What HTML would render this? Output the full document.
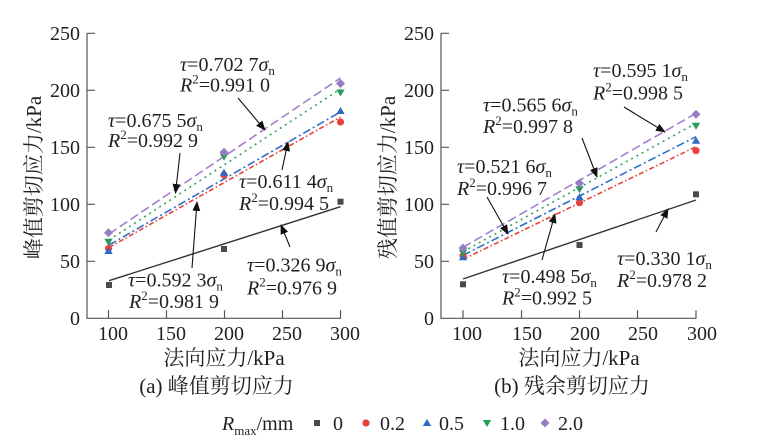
<!DOCTYPE html>
<html><head><meta charset="utf-8"><style>
html,body{margin:0;padding:0;background:#fff;}
*{font-family:"Liberation Serif","Times New Roman",Tinos,"DejaVu Serif","Noto Serif CJK SC",serif;}
svg{display:block;}
</style></head><body>
<svg width="757" height="447" viewBox="0 0 757 447" xmlns="http://www.w3.org/2000/svg">
<defs>
<marker id="ah" markerWidth="10" markerHeight="8" refX="9" refY="4" orient="auto" markerUnits="userSpaceOnUse">
<path d="M0,0 L10,4 L0,8 Z" fill="#111"/>
</marker>
<g id="sq"><rect x="-3" y="-3" width="6" height="6" fill="#4a4a4a"/></g>
<g id="ci"><circle r="3.6" fill="#e8413a"/></g>
<g id="tu"><path d="M0,-4 L4.2,3 L-4.2,3 Z" fill="#2d6cc5"/></g>
<g id="td"><path d="M0,4 L4.2,-3 L-4.2,-3 Z" fill="#2a9a5a"/></g>
<g id="di"><path d="M0,-4.5 L4.5,0 L0,4.5 L-4.5,0 Z" fill="#9a7cc2"/></g>
</defs>
<rect width="757" height="447" fill="#fff"/>

<!-- LEFT CHART axes -->
<g stroke="#555" stroke-width="1.2" fill="none">
<path d="M87,33.3 V318.3 H341"/>
<path d="M87,33.3 h8 M87,90.3 h8 M87,147.3 h8 M87,204.3 h8 M87,261.3 h8"/>
<path d="M108.5,318.3 v-8 M166.5,318.3 v-8 M224.5,318.3 v-8 M282.5,318.3 v-8 M340.5,318.3 v-8"/>
</g>
<g font-family="Liberation Serif" font-size="20" fill="#231f20" text-anchor="end">
<text x="80" y="40">250</text><text x="80" y="97">200</text><text x="80" y="154">150</text>
<text x="80" y="211">100</text><text x="80" y="268">50</text><text x="80" y="325">0</text>
</g>
<g font-family="Liberation Serif" font-size="20" fill="#231f20" text-anchor="middle">
<text x="113" y="340">100</text><text x="171" y="340">150</text><text x="229" y="340">200</text>
<text x="287" y="340">250</text><text x="345" y="340">300</text>
</g>
<g font-family="Liberation Serif, Noto Serif CJK SC, serif" font-size="21" fill="#231f20" text-anchor="middle">
<text transform="translate(41,177.5) rotate(-90)">峰值剪切应力/kPa</text>
<text x="224" y="365">法向应力/kPa</text>
<text x="216.5" y="393">(a) 峰值剪切应力</text>
<text transform="translate(395,177.5) rotate(-90)">残值剪切应力/kPa</text>
<text x="579" y="365">法向应力/kPa</text>
<text x="572" y="393">(b) 残余剪切应力</text>
</g>

<!-- left lines -->
<g fill="none" stroke-width="1.6">
<line x1="109" y1="234" x2="340.5" y2="78" stroke="#a47fd0" stroke-dasharray="9 4"/>
<line x1="109" y1="240" x2="340.5" y2="89" stroke="#35a35f" stroke-dasharray="2 4"/>
<line x1="109" y1="245" x2="340.5" y2="112" stroke="#2f6fc8" stroke-dasharray="8 3 2 3"/>
<line x1="109" y1="247.5" x2="340.5" y2="117" stroke="#e8413a" stroke-dasharray="5 2.5 1.5 2.5"/>
<line x1="109" y1="280.7" x2="340.5" y2="206.7" stroke="#333" stroke-width="1.4"/>
</g>
<use href="#sq" x="109" y="285"/><use href="#sq" x="224" y="249"/><use href="#sq" x="340.5" y="201.7"/>
<use href="#ci" x="108.5" y="248.5"/><use href="#ci" x="224" y="175"/><use href="#ci" x="340.5" y="122"/>
<use href="#tu" x="108.5" y="251"/><use href="#tu" x="224" y="172.7"/><use href="#tu" x="340.5" y="111"/>
<use href="#td" x="108.5" y="241.7"/><use href="#td" x="224" y="156.7"/><use href="#td" x="340.5" y="92.5"/>
<use href="#di" x="108.5" y="232.7"/><use href="#di" x="224" y="152.3"/><use href="#di" x="340.5" y="83.5"/>

<g font-family="Liberation Serif" font-size="20" fill="#231f20">
<text x="180" y="71"><tspan font-style="italic">τ</tspan>=0.702 7<tspan font-style="italic">σ</tspan><tspan font-size="13" dy="4">n</tspan></text>
<text x="180" y="91.5"><tspan font-style="italic">R</tspan><tspan font-size="13" dy="-8">2</tspan><tspan dy="8">=0.991 0</tspan></text>
<text x="108" y="127"><tspan font-style="italic">τ</tspan>=0.675 5<tspan font-style="italic">σ</tspan><tspan font-size="13" dy="4">n</tspan></text>
<text x="108" y="147"><tspan font-style="italic">R</tspan><tspan font-size="13" dy="-8">2</tspan><tspan dy="8">=0.992 9</tspan></text>
<text x="239" y="188"><tspan font-style="italic">τ</tspan>=0.611 4<tspan font-style="italic">σ</tspan><tspan font-size="13" dy="4">n</tspan></text>
<text x="239" y="210"><tspan font-style="italic">R</tspan><tspan font-size="13" dy="-8">2</tspan><tspan dy="8">=0.994 5</tspan></text>
<text x="128" y="286.5"><tspan font-style="italic">τ</tspan>=0.592 3<tspan font-style="italic">σ</tspan><tspan font-size="13" dy="4">n</tspan></text>
<text x="129" y="308"><tspan font-style="italic">R</tspan><tspan font-size="13" dy="-8">2</tspan><tspan dy="8">=0.981 9</tspan></text>
<text x="247" y="271.5"><tspan font-style="italic">τ</tspan>=0.326 9<tspan font-style="italic">σ</tspan><tspan font-size="13" dy="4">n</tspan></text>
<text x="247" y="294.5"><tspan font-style="italic">R</tspan><tspan font-size="13" dy="-8">2</tspan><tspan dy="8">=0.976 9</tspan></text>
</g>
<g stroke="#111" stroke-width="1.1" marker-end="url(#ah)">
<line x1="238" y1="98" x2="265" y2="130"/>
<line x1="180" y1="153" x2="175.5" y2="193"/>
<line x1="282" y1="170" x2="288" y2="142"/>
<line x1="192" y1="268" x2="197" y2="202"/>
<line x1="290" y1="247" x2="281" y2="225"/>
</g>

<!-- RIGHT CHART axes -->
<g stroke="#555" stroke-width="1.2" fill="none">
<path d="M441,33.3 V318.3 H696.5"/>
<path d="M441,33.3 h8 M441,90.3 h8 M441,147.3 h8 M441,204.3 h8 M441,261.3 h8"/>
<path d="M463,318.3 v-8 M521.5,318.3 v-8 M579.5,318.3 v-8 M637.5,318.3 v-8 M696,318.3 v-8"/>
</g>
<g font-family="Liberation Serif" font-size="20" fill="#231f20" text-anchor="end">
<text x="434" y="40">250</text><text x="434" y="97">200</text><text x="434" y="154">150</text>
<text x="434" y="211">100</text><text x="434" y="268">50</text><text x="434" y="325">0</text>
</g>
<g font-family="Liberation Serif" font-size="20" fill="#231f20" text-anchor="middle">
<text x="467" y="340">100</text><text x="527" y="340">150</text><text x="585" y="340">200</text>
<text x="643" y="340">250</text><text x="702" y="340">300</text>
</g>

<g fill="none" stroke-width="1.6">
<line x1="463" y1="247.3" x2="696" y2="113.3" stroke="#a47fd0" stroke-dasharray="9 4"/>
<line x1="463" y1="251.7" x2="696" y2="123.3" stroke="#35a35f" stroke-dasharray="2 4"/>
<line x1="463" y1="255.3" x2="696" y2="136.7" stroke="#2f6fc8" stroke-dasharray="8 3 2 3"/>
<line x1="463" y1="259.3" x2="696" y2="146.7" stroke="#e8413a" stroke-dasharray="5 2.5 1.5 2.5"/>
<line x1="463" y1="279" x2="696" y2="200" stroke="#333" stroke-width="1.4"/>
</g>
<use href="#sq" x="463" y="284.3"/><use href="#sq" x="579.5" y="245"/><use href="#sq" x="696" y="194.3"/>
<use href="#ci" x="463" y="255.5"/><use href="#ci" x="579.5" y="202.7"/><use href="#ci" x="696" y="150.7"/>
<use href="#tu" x="463" y="257.3"/><use href="#tu" x="579.5" y="197.3"/><use href="#tu" x="696" y="140.7"/>
<use href="#td" x="463" y="252.7"/><use href="#td" x="579.5" y="189.3"/><use href="#td" x="696" y="125.7"/>
<use href="#di" x="463" y="248"/><use href="#di" x="579.5" y="183.3"/><use href="#di" x="696" y="114.3"/>

<g font-family="Liberation Serif" font-size="20" fill="#231f20">
<text x="593" y="77"><tspan font-style="italic">τ</tspan>=0.595 1<tspan font-style="italic">σ</tspan><tspan font-size="13" dy="4">n</tspan></text>
<text x="593" y="99.5"><tspan font-style="italic">R</tspan><tspan font-size="13" dy="-8">2</tspan><tspan dy="8">=0.998 5</tspan></text>
<text x="483" y="111.5"><tspan font-style="italic">τ</tspan>=0.565 6<tspan font-style="italic">σ</tspan><tspan font-size="13" dy="4">n</tspan></text>
<text x="483" y="133"><tspan font-style="italic">R</tspan><tspan font-size="13" dy="-8">2</tspan><tspan dy="8">=0.997 8</tspan></text>
<text x="457" y="173"><tspan font-style="italic">τ</tspan>=0.521 6<tspan font-style="italic">σ</tspan><tspan font-size="13" dy="4">n</tspan></text>
<text x="457" y="195"><tspan font-style="italic">R</tspan><tspan font-size="13" dy="-8">2</tspan><tspan dy="8">=0.996 7</tspan></text>
<text x="502" y="283"><tspan font-style="italic">τ</tspan>=0.498 5<tspan font-style="italic">σ</tspan><tspan font-size="13" dy="4">n</tspan></text>
<text x="502" y="304.5"><tspan font-style="italic">R</tspan><tspan font-size="13" dy="-8">2</tspan><tspan dy="8">=0.992 5</tspan></text>
<text x="617" y="265"><tspan font-style="italic">τ</tspan>=0.330 1<tspan font-style="italic">σ</tspan><tspan font-size="13" dy="4">n</tspan></text>
<text x="617" y="287"><tspan font-style="italic">R</tspan><tspan font-size="13" dy="-8">2</tspan><tspan dy="8">=0.978 2</tspan></text>
</g>
<g stroke="#111" stroke-width="1.1" marker-end="url(#ah)">
<line x1="624" y1="107" x2="665" y2="132"/>
<line x1="582" y1="138" x2="597" y2="177"/>
<line x1="487" y1="197" x2="508" y2="234"/>
<line x1="542" y1="260" x2="555" y2="214"/>
<line x1="656" y1="232" x2="668" y2="209"/>
</g>

<!-- LEGEND -->
<g font-family="Liberation Serif" font-size="20" fill="#231f20">
<text x="222" y="430"><tspan font-style="italic">R</tspan><tspan font-size="13" dy="5">max</tspan><tspan dy="-5">/mm</tspan></text>
<text x="333" y="430">0</text>
<text x="380" y="430">0.2</text>
<text x="439" y="430">0.5</text>
<text x="500" y="430">1.0</text>
<text x="558" y="430">2.0</text>
</g>
<use href="#sq" x="317" y="423"/>
<use href="#ci" x="366" y="423"/>
<use href="#tu" x="427" y="423"/>
<use href="#td" x="487" y="423"/>
<use href="#di" x="545" y="423"/>
</svg>
</body></html>
